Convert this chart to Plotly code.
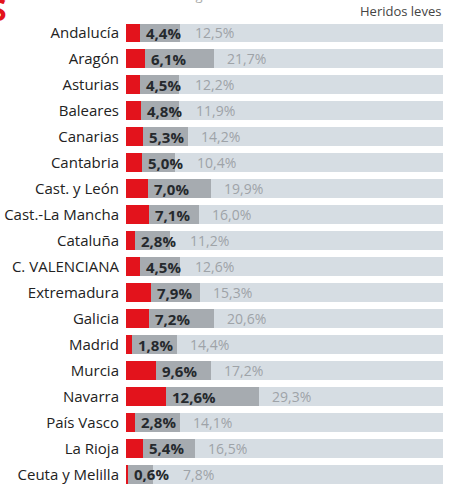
import plotly.graph_objects as go

regions = ["Andalucía", "Aragón", "Asturias", "Baleares", "Canarias", "Cantabria",
           "Cast. y León", "Cast.-La Mancha", "Cataluña", "C. VALENCIANA", "Extremadura",
           "Galicia", "Madrid", "Murcia", "Navarra", "País Vasco", "La Rioja", "Ceuta y Melilla"]
fallecidos = [4.4, 6.1, 4.5, 4.8, 5.3, 5.0, 7.0, 7.1, 2.8, 4.5, 7.9, 7.2, 1.8, 9.6, 12.6, 2.8, 5.4, 0.6]
graves = [12.5, 21.7, 12.2, 11.9, 14.2, 10.4, 19.9, 16.0, 11.2, 12.6, 15.3, 20.6, 14.4, 17.2, 29.3, 14.1, 16.5, 7.8]
leves = [round(100 - f - g, 1) for f, g in zip(fallecidos, graves)]

RED = "#e3131c"
GRAY = "#a6abb0"
LIGHT = "#d6dde3"
FONT = "Open Sans"
PLOT_W = 317  # pixel width of the 0-100 axis

def fmt(v):
    return f"{v:.1f}".replace(".", ",") + "%"

idx = list(range(len(regions)))
fig = go.Figure()
fig.add_bar(y=idx, x=fallecidos, orientation="h", marker_color=RED, marker_line_width=0, name="Fallecidos")
fig.add_bar(y=idx, x=graves, orientation="h", marker_color=GRAY, marker_line_width=0, name="Heridos graves")
fig.add_bar(y=idx, x=leves, orientation="h", marker_color=LIGHT, marker_line_width=0, name="Heridos leves")

ppu = PLOT_W / 100.0
ann = []
for i, (f, g) in enumerate(zip(fallecidos, graves)):
    txt = fmt(f)
    bold_w = 9 * sum(c.isdigit() for c in txt) + 4 + 13
    ann.append(dict(x=f, y=i, xref="x", yref="y", text=f"<b>{txt}</b>", showarrow=False,
                    xanchor="left", xshift=4, font=dict(family=FONT, size=15, color="#25292d")))
    bold_end = f * ppu + 4 + bold_w
    shift = max(11, bold_end + 14 - (f + g) * ppu)
    ann.append(dict(x=f + g, y=i, xref="x", yref="y", text=fmt(g), showarrow=False,
                    xanchor="left", xshift=shift, font=dict(family=FONT, size=14, color="#9ea3a8")))

# header for the light segment
ann.append(dict(x=1, y=1, xref="paper", yref="paper", yanchor="top", xanchor="right", yshift=20,
                text="Heridos leves", showarrow=False, font=dict(family=FONT, size=13, color="#444")))
# legend (partially cut off at the top as in the reference)
ann.append(dict(x=0, y=1, xref="paper", yref="paper", xanchor="left", yanchor="bottom", xshift=-80, yshift=14,
                text="<span style='color:%s'>■</span> <b>Fallecidos</b>   <span style='color:%s'>■</span> <span style='color:#aaa'>Heridos graves</span>" % (RED, GRAY),
                showarrow=False, font=dict(family=FONT, size=13, color="#333")))
# red logo glyph cut at left edge
ann.append(dict(x=0, y=1, xref="paper", yref="paper", xanchor="left", yanchor="bottom", xshift=-138, yshift=-12,
                text="<b>S</b>", showarrow=False, font=dict(family=FONT, size=30, color=RED)))

fig.update_layout(
    barmode="stack",
    width=457, height=484,
    margin=dict(l=126, r=14, t=20, b=0, autoexpand=False),
    paper_bgcolor="white", plot_bgcolor="white",
    showlegend=False,
    bargap=0.27,
    xaxis=dict(range=[0, 100], visible=False, fixedrange=True, automargin=False),
    yaxis=dict(range=[17.37, -0.5], tickmode="array", tickvals=idx, ticktext=regions,
               showgrid=False, zeroline=False, showline=False, ticks="",
               ticklabelstandoff=6, automargin=False, fixedrange=True,
               tickfont=dict(family=FONT, size=15, color="#222")),
    annotations=ann,
)

fig.write_html("out.html", config={"displayModeBar": False},
               post_script="document.body.style.margin='0';document.body.style.overflow='hidden';")
